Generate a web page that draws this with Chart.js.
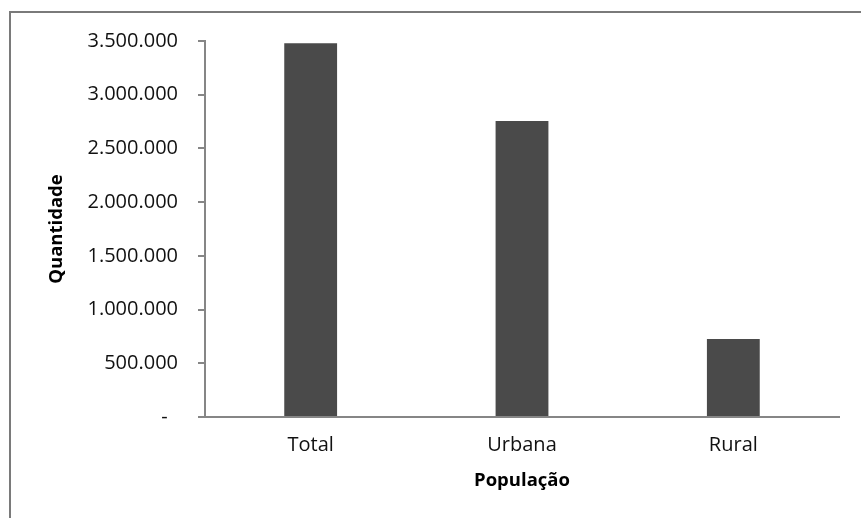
<!DOCTYPE html>
<html>
<head>
<meta charset="utf-8">
<style>
  html, body { margin: 0; padding: 0; background: #fff; }
  #wrap { width: 861px; height: 518px; position: relative; }
</style>
<script src="https://cdn.jsdelivr.net/npm/chart.js@4/dist/chart.umd.min.js"></script>
</head>
<body>
<div id="wrap"><canvas id="c" width="861" height="518"></canvas></div>
<script>
// Population by area (number of inhabitants)
const categories = ['Total', 'Urbana', 'Rural'];
const population = [3480000, 2755000, 725000];
const yTicksMax = 3500000;
const yTickStep = 500000;
const xAxisTitle = 'População';
const yAxisTitle = 'Quantidade';

// 1234567 -> "1.234.567"; zero shown as a dash (accounting style)
function formatPt(v) {
  if (v === 0) return '-  ';
  return String(Math.round(v)).replace(/\B(?=(\d{3})+(?!\d))/g, '.');
}

const AXIS = '#868686';
const TEXT = '#111';

// Outer frame: top and left edges of the chart box
const framePlugin = {
  id: 'frame',
  beforeDraw(chart) {
    const ctx = chart.ctx;
    ctx.save();
    ctx.strokeStyle = '#7a7a7a';
    ctx.lineWidth = 2;
    ctx.beginPath();
    ctx.moveTo(10, 518);
    ctx.lineTo(10, 12);
    ctx.lineTo(861, 12);
    ctx.stroke();
    ctx.restore();
  }
};

new Chart(document.getElementById('c'), {
  type: 'bar',
  data: {
    labels: categories,
    datasets: [{
      data: population,
      backgroundColor: '#4a4a4a',
      borderWidth: 0,
      barPercentage: 0.5,
      categoryPercentage: 0.5
    }]
  },
  options: {
    responsive: false,
    animation: false,
    devicePixelRatio: 1,
    layout: { padding: { left: 30, right: 22, top: 41, bottom: 20 } },
    plugins: {
      legend: { display: false },
      tooltip: { enabled: false }
    },
    scales: {
      x: {
        afterFit(scale) { scale.height = 518 - 20 - 417; },
        grid: { display: true, drawOnChartArea: false, drawTicks: false },
        border: { display: true, color: AXIS, width: 2 },
        ticks: {
          color: TEXT,
          padding: 16,
          font: { family: 'Open Sans', size: 20 }
        },
        title: {
          display: true,
          text: xAxisTitle,
          color: '#000',
          padding: { top: 0, bottom: 6 },
          font: { family: 'Open Sans', size: 18.5, weight: 'bold' }
        }
      },
      y: {
        min: 0,
        max: yTicksMax,
        afterFit(scale) { scale.width = 205 - 30; },
        grid: { display: true, drawOnChartArea: false, drawTicks: true, tickLength: 7, color: AXIS, lineWidth: 2 },
        border: { display: true, color: AXIS, width: 2 },
        ticks: {
          stepSize: yTickStep,
          color: TEXT,
          padding: 20,
          font: { family: 'Open Sans', size: 20 },
          callback: (v) => formatPt(v)
        },
        title: {
          display: true,
          text: yAxisTitle,
          color: '#000',
          padding: { top: 16, bottom: 0 },
          font: { family: 'Open Sans', size: 18.5, weight: 'bold' }
        }
      }
    }
  },
  plugins: [framePlugin]
});
</script>
</body>
</html>
